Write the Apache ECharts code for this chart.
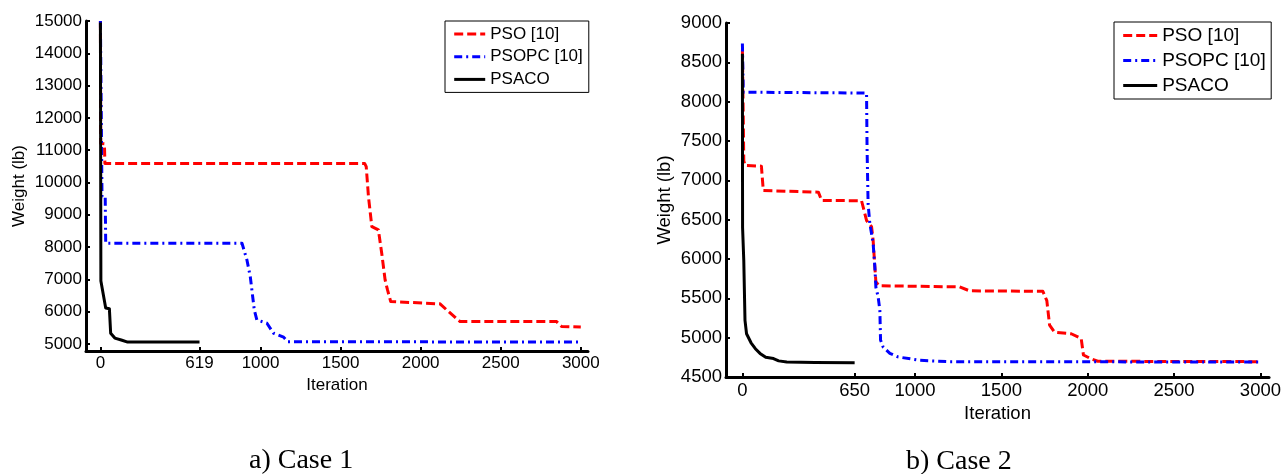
<!DOCTYPE html>
<html>
<head>
<meta charset="utf-8">
<script src="https://cdn.jsdelivr.net/npm/echarts@6/dist/echarts.min.js"></script>
<style>
  html, body { margin: 0; padding: 0; background: #ffffff; }
  #chart { width: 1284px; height: 474px; }
</style>
</head>
<body>
<div id="chart"></div>
<script>
// ---- Case 1: best weight (lb) against iteration ----
const pso1Iter    = [0, 2, 25, 28, 1650, 1660, 1674, 1695, 1736, 1757, 1778, 1793, 1813, 2121, 2163, 2246, 2849, 2880, 3000];
const pso1Weight  = [15000, 11210, 11200, 10590, 10590, 10490, 9560, 8630, 8530, 7800, 6980, 6670, 6310, 6240, 6050, 5690, 5690, 5540, 5520];
const psopc1Iter   = [0, 10, 30, 33, 884, 915, 936, 961, 977, 1040, 1081, 1144, 1169, 3000];
const psopc1Weight = [15000, 9560, 9560, 8120, 8120, 7600, 7080, 6050, 5740, 5640, 5330, 5210, 5065, 5060];
const psaco1Iter   = [0, 3, 33, 56, 64, 90, 130, 170, 619];
const psaco1Weight = [14950, 6950, 6110, 6090, 5330, 5180, 5120, 5055, 5055];

// ---- Case 2 ----
const pso2Iter    = [0, 8, 15, 110, 121, 440, 459, 690, 719, 748, 757, 767, 773, 792, 1258, 1316, 1740, 1763, 1779, 1808, 1904, 1962, 1975, 2020, 2058, 3000];
const pso2Weight  = [8650, 7250, 7190, 7180, 6870, 6850, 6745, 6740, 6490, 6410, 6240, 5900, 5710, 5660, 5645, 5595, 5590, 5470, 5160, 5070, 5050, 4990, 4780, 4730, 4700, 4695];
const psopc2Iter   = [0, 5, 719, 722, 728, 738, 748, 757, 767, 773, 786, 796, 800, 815, 854, 902, 1027, 1200, 3000];
const psopc2Weight = [8740, 8120, 8110, 7400, 6700, 6450, 6320, 6200, 5900, 5640, 5520, 5350, 4970, 4880, 4800, 4755, 4712, 4695, 4690];
const psaco2Iter   = [0, 1, 8, 15, 24, 50, 75, 102, 135, 180, 210, 257, 420, 650];
const psaco2Weight = [8610, 6400, 5980, 5220, 5050, 4935, 4860, 4800, 4750, 4735, 4705, 4690, 4685, 4680];

// ---- axis ticks ----
const xTicks1 = [0, 619, 1000, 1500, 2000, 2500, 3000];
const yTicks1 = [5000, 6000, 7000, 8000, 9000, 10000, 11000, 12000, 13000, 14000, 15000];
const xTicks2 = [0, 650, 1000, 1500, 2000, 2500, 3000];
const yTicks2 = [4500, 5000, 5500, 6000, 6500, 7000, 7500, 8000, 8500, 9000];

const seriesNames = ['PSO [10]', 'PSOPC [10]', 'PSACO'];
const captions = ['a) Case 1', 'b) Case 2'];

const pairs = (xs, ys) => xs.map((x, i) => [x, ys[i]]);
const plain = (v) => String(v);

const SANS = '"Liberation Sans", Arial, sans-serif';
const SERIF = '"Liberation Serif", "Times New Roman", serif';

const lineStyles = [
  { color: '#ff0000', width: 3, type: [9, 4] },
  { color: '#0000ff', width: 3, type: [8, 4, 2, 4] },
  { color: '#000000', width: 3, type: 'solid' }
];

function xAxisFor(idx, min, max, ticks, fs, nameGap) {
  return {
    gridIndex: idx, type: 'value', min: min, max: max,
    name: 'Iteration', nameLocation: 'middle', nameGap: nameGap,
    nameTextStyle: { color: '#000', fontFamily: SANS, fontSize: fs },
    axisLine: { onZero: false, lineStyle: { color: '#000', width: 3 } },
    axisTick: { inside: true, length: 4, lineStyle: { color: '#000', width: 2 }, customValues: ticks },
    axisLabel: { color: '#000', fontFamily: SANS, fontSize: fs, margin: 4, customValues: ticks, formatter: plain },
    splitLine: { show: false }
  };
}

function yAxisFor(idx, min, max, ticks, fs, nameGap) {
  return {
    gridIndex: idx, type: 'value', min: min, max: max,
    name: 'Weight (lb)', nameLocation: 'middle', nameGap: nameGap, nameRotate: 90,
    nameTextStyle: { color: '#000', fontFamily: SANS, fontSize: fs },
    axisLine: { onZero: false, lineStyle: { color: '#000', width: 3 } },
    axisTick: { inside: true, length: 4, lineStyle: { color: '#000', width: 2 }, customValues: ticks },
    axisLabel: { color: '#000', fontFamily: SANS, fontSize: fs, margin: 4, customValues: ticks, formatter: plain },
    splitLine: { show: false }
  };
}

function lineSeries(name, idx, data, style) {
  return {
    name: name, type: 'line', xAxisIndex: idx, yAxisIndex: idx,
    data: data, symbol: 'none', smooth: false, animation: false,
    lineStyle: Object.assign({ cap: 'butt', join: 'round' }, style),
    itemStyle: { color: style.color },
    emphasis: { disabled: true }
  };
}

function legendFor(left, top, fs, iw, gap, pad) {
  return {
    orient: 'vertical', left: left, top: top,
    data: seriesNames,
    itemWidth: iw, itemHeight: 12, itemGap: gap,
    padding: pad,
    borderColor: '#000', borderWidth: 1, backgroundColor: '#fff',
    itemStyle: { opacity: 0 },
    lineStyle: { width: 3 },
    textStyle: { color: '#000', fontFamily: SANS, fontSize: fs },
    selectedMode: false
  };
}

const chart = echarts.init(document.getElementById('chart'), null, { renderer: 'canvas' });

chart.setOption({
  backgroundColor: '#ffffff',
  animation: false,
  title: [
    { text: captions[0], left: 249, top: 447, padding: 0,
      textStyle: { fontFamily: SERIF, fontSize: 28, fontWeight: 'normal', color: '#000' } },
    { text: captions[1], left: 906, top: 448, padding: 0,
      textStyle: { fontFamily: SERIF, fontSize: 28, fontWeight: 'normal', color: '#000' } }
  ],
  grid: [
    { left: 86, top: 21, width: 502, height: 330 },
    { left: 726, top: 23, width: 544, height: 354 }
  ],
  xAxis: [
    xAxisFor(0, -90, 3045, xTicks1, 17, 24),
    xAxisFor(1, -95, 3050, xTicks2, 18.5, 25)
  ],
  yAxis: [
    yAxisFor(0, 4780, 15000, yTicks1, 17, 58),
    yAxisFor(1, 4500, 9000, yTicks2, 18.5, 52)
  ],
  legend: [
    legendFor(445, 21, 17, 31, 5.7, [4.5, 6, 4.5, 7.7]),
    legendFor(1114, 22, 19, 34, 6, [4, 5.5, 4, 7.7])
  ],
  series: [
    lineSeries(seriesNames[0], 0, pairs(pso1Iter, pso1Weight), lineStyles[0]),
    lineSeries(seriesNames[1], 0, pairs(psopc1Iter, psopc1Weight), lineStyles[1]),
    lineSeries(seriesNames[2], 0, pairs(psaco1Iter, psaco1Weight), lineStyles[2]),
    lineSeries(seriesNames[0], 1, pairs(pso2Iter, pso2Weight), lineStyles[0]),
    lineSeries(seriesNames[1], 1, pairs(psopc2Iter, psopc2Weight), lineStyles[1]),
    lineSeries(seriesNames[2], 1, pairs(psaco2Iter, psaco2Weight), lineStyles[2])
  ]
});
</script>
</body>
</html>
